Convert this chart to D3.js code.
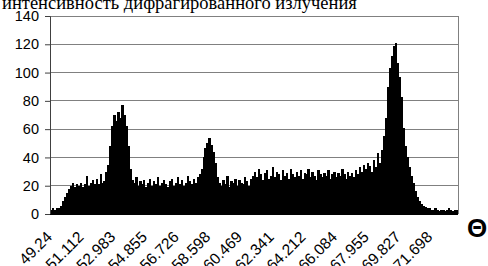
<!DOCTYPE html>
<html><head><meta charset="utf-8">
<script src="https://cdn.jsdelivr.net/npm/d3@7"></script>
<style>body{margin:0;background:#fff}svg{display:block}</style>
</head><body>
<svg id="c" width="488" height="266"></svg>
<script>
const title = "интенсивность дифрагированного излучения";
const axisSymbol = "Θ";
const intensity = [
 3,4,3,4,4, 6,9,12,15,18,20,
 22,19,21,20,22,19,21,
 27,20,22,24,21,25,21,28,22,23,
 30,35,
 48,62,70,66,72,68,77,70,62,48,32,24,
 22,26,20,23,21,24,19,22,25,20,23,21,26,20,22,24,21,19,23,25,20,22,26,21,24,20,22,27,23,21,25,22,26,28,
 32,40,47,50,54,49,44,36,26,
 22,20,24,21,27,19,23,22,25,20,24,22,21,26,23,20,25,
 27,30,26,32,28,24,29,31,25,27,33,26,30,28,24,31,27,29,25,32,28,26,30,27,31,25,29,28,32,26,30,27,24,31,28,26,
 29,27,31,25,28,30,26,29,27,32,28,25,30,27,29,26,31,28,33,30,35,32,36,34,30,38,33,43,
 36,45,55,68,90,103,112,119,121,107,97,83,61,48,40,33,27,22,16,12,9,7,6,5,4,4,
 3,3,4,3,2,3,3,2,3,4,3,2,3,3
];
const yTicks = [0,20,40,60,80,100,120,140];
const xTickLabels = ["49.24","51.112","52.983","54.855","56.726","58.598","60.469","62.341","64.212","66.084","67.955","69.827","71.698"];
const labelEvery = 16;

const svg = d3.select("#c");
const L = 50, R = 458, T = 16, B = 214;
const idx = d3.range(intensity.length);
const x = d3.scaleBand().domain(idx).range([L, R]).padding(0);
const y = d3.scaleLinear().domain([0, 140]).range([B, T]);

// gridlines
svg.append("g").selectAll("line").data(yTicks.filter(d => d > 0)).join("line")
  .attr("x1", L).attr("x2", R).attr("y1", d => y(d)).attr("y2", d => y(d))
  .attr("stroke", "#808080").attr("stroke-width", 1).attr("shape-rendering", "crispEdges");
// right border
svg.append("line").attr("x1", R).attr("x2", R).attr("y1", T).attr("y2", B)
  .attr("stroke", "#808080").attr("shape-rendering", "crispEdges");

// bars
svg.append("g").selectAll("rect").data(intensity).join("rect")
  .attr("x", (d, i) => x(i)).attr("width", x.bandwidth() + 0.4)
  .attr("y", d => y(d)).attr("height", d => B - y(d))
  .attr("fill", "#000").attr("shape-rendering", "crispEdges");

// y axis
const yAxis = d3.axisLeft(y).tickValues(yTicks).tickSize(5).tickPadding(6);
const gy = svg.append("g").attr("transform", `translate(${L},0)`).call(yAxis);
gy.select(".domain").attr("stroke", "#404040");
gy.selectAll(".tick line").attr("stroke", "#404040");
gy.selectAll("text").attr("font-family", "Liberation Sans, Arial, sans-serif")
  .attr("font-size", 14.5).attr("fill", "#000");

// bottom line
svg.append("line").attr("x1", L).attr("x2", R).attr("y1", B + 0.5).attr("y2", B + 0.5).attr("stroke", "#000");

// x labels
const tickIdx = xTickLabels.map((t, k) => k * labelEvery);
const xAxis = d3.axisBottom(x).tickValues(tickIdx).tickFormat((d, k) => xTickLabels[k]).tickSize(0);
const gx = svg.append("g").attr("transform", `translate(0,${B})`).call(xAxis);
gx.select(".domain").remove();
gx.selectAll("text")
  .attr("font-family", "Liberation Sans, Arial, sans-serif").attr("font-size", 15.5).attr("fill", "#000")
  .attr("text-anchor", "end")
  .attr("x", 0).attr("y", 0).attr("dy", 0)
  .attr("transform", "translate(2,24) rotate(-45)");

// title
svg.append("text").attr("x", 2).attr("y", 9).text(title)
  .attr("font-family", "Liberation Serif, Times New Roman, serif").attr("font-size", 18.5).attr("fill", "#000");

// theta symbol
svg.append("text").attr("x", 467).attr("y", 237).text(axisSymbol)
  .attr("font-family", "Liberation Sans, Arial, sans-serif").attr("font-weight", "bold")
  .attr("font-size", 26).attr("fill", "#000");
</script>
</body></html>
